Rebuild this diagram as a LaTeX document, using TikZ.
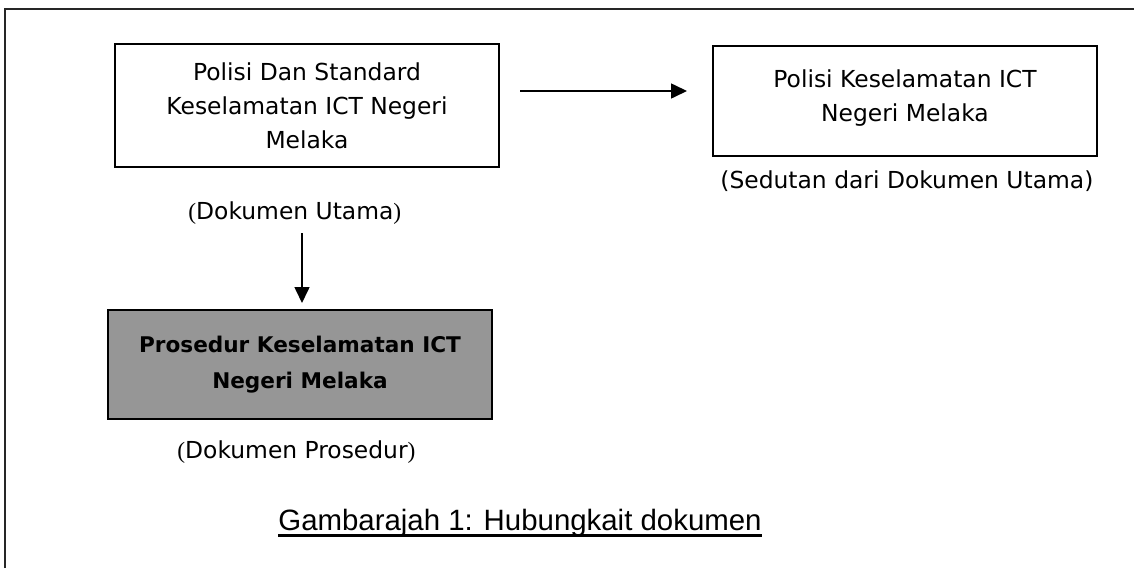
\documentclass[tikz,border=0pt]{standalone}
\usepackage{fontspec}
\setmainfont{DejaVu Sans}
\newfontfamily\serifparen{Liberation Serif}
\newfontfamily\captionfont{Liberation Sans}
\usetikzlibrary{arrows.meta}
\definecolor{boxgrey}{RGB}{150,150,150}

\begin{document}
\begin{tikzpicture}[x=0.5pt, y=-0.5pt, >={Triangle[length=8pt,width=7.5pt]},
	docbox/.style={draw, line width=1pt, minimum width=192pt, align=center, font=\fontsize{11.7}{17}\selectfont},
	doclabel/.style={inner sep=0pt, anchor=base west, font=\fontsize{11.7}{14}\selectfont}]
	\useasboundingbox (0,0) rectangle (1134,568);
	\draw[line width=1pt, black!85] (5,568) -- (5,9) -- (1134,9);
	
	\node[docbox, minimum height=61.5pt] (utama) at (307,105.5) {Polisi Dan Standard\\Keselamatan ICT Negeri\\Melaka};
	\node[docbox, minimum height=55pt] (sedutan) at (905,101) {Polisi Keselamatan ICT\\Negeri Melaka\\[-12pt]};
	\node[docbox, minimum height=54.5pt, fill=boxgrey, font=\bfseries\fontsize{10.8}{18}\selectfont] (prosedur) at (300,364.5) {Prosedur Keselamatan ICT\\Negeri Melaka};
	
	\node[doclabel] (lblutama) at (188,219) {{\serifparen(}Dokumen Utama{\serifparen)}};
	\node[doclabel] (lblsedutan) at (720,188) {(Sedutan dari Dokumen Utama)};
	\node[doclabel] (lblprosedur) at (177,458) {{\serifparen(}Dokumen Prosedur{\serifparen)}};
	
	\node[doclabel, font=\captionfont\fontsize{14.7}{17}\selectfont] (caption) at (278,530) {Gambarajah 1: Hubungkait dokumen};
	\draw[line width=1.5pt] ([yshift=-2.5pt]caption.base west) -- ([yshift=-2.5pt]caption.base east);
	
	\coordinate (hstart) at (520,91);
	\coordinate (vstart) at (302,233);
	\draw[->, line width=0.8pt, shorten >=12.5pt] (hstart) -- (hstart -| sedutan.west);
	\draw[->, line width=0.8pt, shorten >=3pt] (vstart) -- (vstart |- prosedur.north);
\end{tikzpicture}
\end{document}
